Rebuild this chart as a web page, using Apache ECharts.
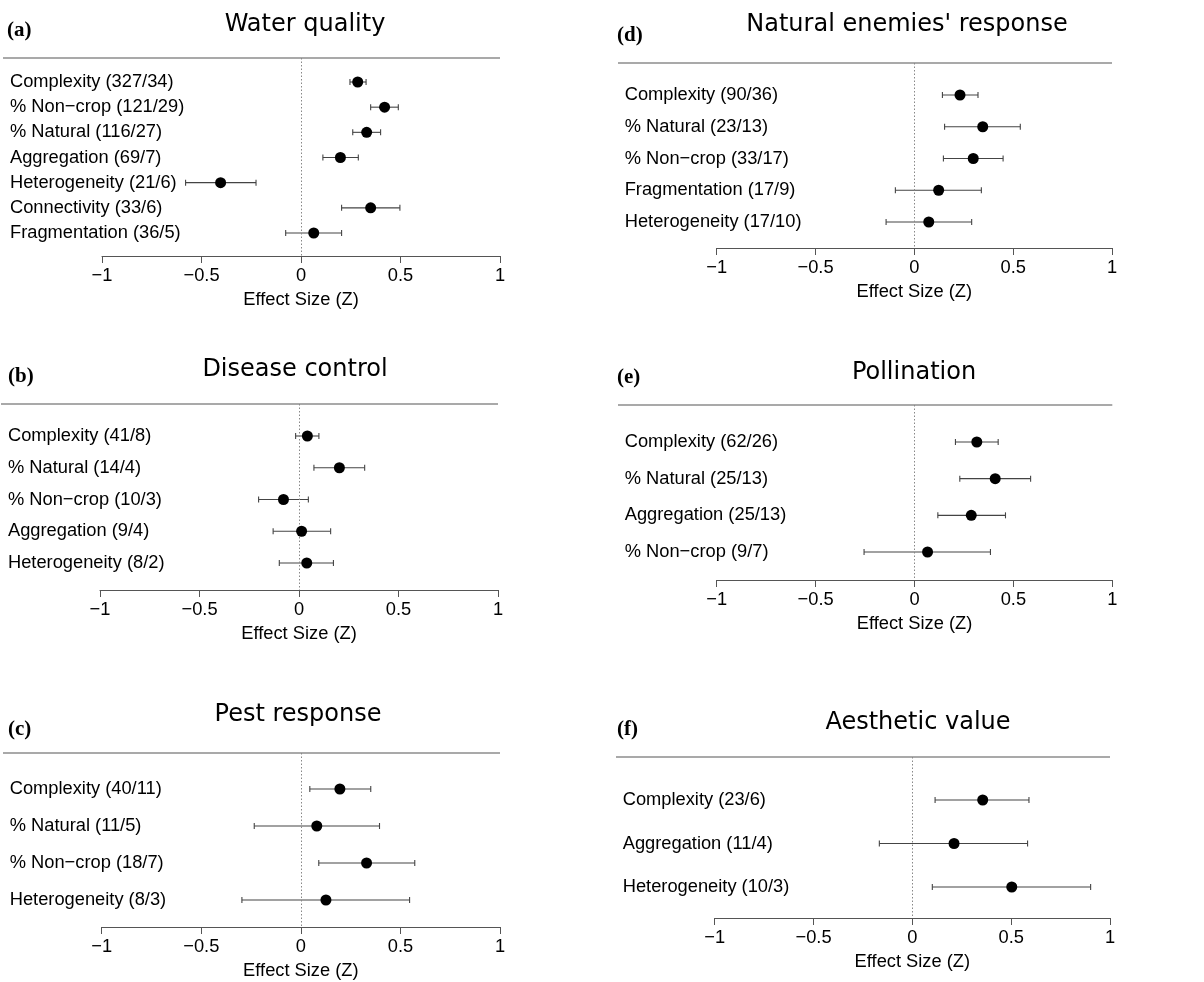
<!DOCTYPE html>
<html>
<head>
<meta charset="utf-8">
<script src="https://cdn.jsdelivr.net/npm/echarts@6/dist/echarts.min.js"></script>
<style>html,body{margin:0;padding:0;background:#fff}#c{width:1204px;height:982px}</style>
</head>
<body>
<div id="c"></div>
<script>
// ---------- DATA ----------
const xTicks = [-1, -0.5, 0, 0.5, 1];

const waterLabels = ['Complexity (327/34)', '% Non\u2212crop (121/29)', '% Natural (116/27)', 'Aggregation (69/7)', 'Heterogeneity (21/6)', 'Connectivity (33/6)', 'Fragmentation (36/5)'];
const waterMean = [0.285, 0.42, 0.33, 0.198, -0.404, 0.35, 0.064];
const waterLow  = [0.246, 0.35, 0.26, 0.11, -0.58, 0.204, -0.077];
const waterHigh = [0.327, 0.489, 0.40, 0.288, -0.226, 0.497, 0.204];

const diseaseLabels = ['Complexity (41/8)', '% Natural (14/4)', '% Non\u2212crop (10/3)', 'Aggregation (9/4)', 'Heterogeneity (8/2)'];
const diseaseMean = [0.042, 0.203, -0.078, 0.013, 0.039];
const diseaseLow  = [-0.017, 0.075, -0.203, -0.13, -0.099];
const diseaseHigh = [0.1, 0.33, 0.047, 0.159, 0.173];

const pestLabels = ['Complexity (40/11)', '% Natural (11/5)', '% Non\u2212crop (18/7)', 'Heterogeneity (8/3)'];
const pestMean = [0.196, 0.08, 0.33, 0.126];
const pestLow  = [0.045, -0.234, 0.09, -0.296];
const pestHigh = [0.351, 0.395, 0.572, 0.546];

const enemiesLabels = ['Complexity (90/36)', '% Natural (23/13)', '% Non\u2212crop (33/17)', 'Fragmentation (17/9)', 'Heterogeneity (17/10)'];
const enemiesMean = [0.231, 0.346, 0.298, 0.123, 0.073];
const enemiesLow  = [0.142, 0.153, 0.147, -0.096, -0.143];
const enemiesHigh = [0.322, 0.536, 0.449, 0.339, 0.29];

const pollLabels = ['Complexity (62/26)', '% Natural (25/13)', 'Aggregation (25/13)', '% Non\u2212crop (9/7)'];
const pollMean = [0.315, 0.408, 0.287, 0.066];
const pollLow  = [0.207, 0.229, 0.118, -0.255];
const pollHigh = [0.423, 0.587, 0.46, 0.384];

const aestLabels = ['Complexity (23/6)', 'Aggregation (11/4)', 'Heterogeneity (10/3)'];
const aestMean = [0.356, 0.211, 0.503];
const aestLow  = [0.115, -0.167, 0.101];
const aestHigh = [0.59, 0.583, 0.902];

const panelTitles = ['Water quality', 'Disease control', 'Pest response', "Natural enemies' response", 'Pollination', 'Aesthetic value'];
const panelLetters = ['(a)', '(b)', '(c)', '(d)', '(e)', '(f)'];
const xName = 'Effect Size (Z)';

// ---------- LAYOUT ----------
const layouts = [
  {gl: 102,   gr: 500,    ruleY: 58,  axisY: 256, r1: 82,  rn: 233, rx0: 3,   tx: 305, ty: 25,  lx: 7,   ly: 31},
  {gl: 100,   gr: 498,    ruleY: 404, axisY: 590, r1: 436, rn: 563, rx0: 1,   tx: 295, ty: 370, lx: 8,   ly: 377},
  {gl: 101.7, gr: 500,    ruleY: 753, axisY: 927, r1: 789, rn: 900, rx0: 3,   tx: 298, ty: 715, lx: 8,   ly: 730},
  {gl: 716.7, gr: 1112,   ruleY: 63,  axisY: 248, r1: 95,  rn: 222, rx0: 618, tx: 907, ty: 25,  lx: 617, ly: 36},
  {gl: 716.7, gr: 1112.3, ruleY: 405, axisY: 580, r1: 442, rn: 552, rx0: 618, tx: 914, ty: 373, lx: 617, ly: 378},
  {gl: 714.7, gr: 1110,   ruleY: 757, axisY: 918, r1: 800, rn: 887, rx0: 616, tx: 918, ty: 723, lx: 617, ly: 730}
];
const panels = [
  [waterLabels, waterMean, waterLow, waterHigh],
  [diseaseLabels, diseaseMean, diseaseLow, diseaseHigh],
  [pestLabels, pestMean, pestLow, pestHigh],
  [enemiesLabels, enemiesMean, enemiesLow, enemiesHigh],
  [pollLabels, pollMean, pollLow, pollHigh],
  [aestLabels, aestMean, aestLow, aestHigh]
];

const LABEL_FONT = 'Liberation Sans, Arial, sans-serif';
const FS = 18.3;
const LABEL_GAP = 92;

const grids = [], xAxes = [], yAxes = [], series = [], graphics = [];
const fmt = v => (v < 0 ? '\u2212' + Math.abs(v) : String(v));

panels.forEach((p, i) => {
  const L = layouts[i];
  const [labels, mean, low, high] = p;
  const n = labels.length;
  const s = n > 1 ? (L.rn - L.r1) / (n - 1) : 25;
  const ymin = 1 - (L.r1 - L.ruleY) / s;
  const ymax = n + (L.axisY - L.rn) / s;

  grids.push({left: L.gl, top: L.ruleY, width: L.gr - L.gl, height: L.axisY - L.ruleY, containLabel: false});
  xAxes.push({
    type: 'value', gridIndex: i, min: xTicks[0], max: xTicks[xTicks.length - 1], interval: 0.5,
    position: 'bottom',
    axisLine: {show: true, onZero: false, lineStyle: {color: '#555', width: 1}},
    axisTick: {show: true, inside: false, length: 7, lineStyle: {color: '#555', width: 1}},
    axisLabel: {show: true, formatter: fmt, fontFamily: LABEL_FONT, fontSize: FS, color: '#000', margin: 11, showMinLabel: true, showMaxLabel: true},
    splitLine: {show: false},
    name: xName, nameLocation: 'middle', nameGap: 35,
    nameTextStyle: {fontFamily: LABEL_FONT, fontSize: FS, color: '#000'}
  });
  yAxes.push({type: 'value', gridIndex: i, inverse: true, min: ymin, max: ymax, show: false, axisLine: {onZero: false}});

  const barData = labels.map((lab, k) => [k + 1, low[k], high[k], lab]);
  // error bars
  series.push({
    type: 'custom', xAxisIndex: i, yAxisIndex: i, silent: true,
    encode: {x: [1, 2], y: 0},
    data: barData,
    renderItem: (params, api) => {
      const y = api.value(0);
      const a = api.coord([api.value(1), y]);
      const b = api.coord([api.value(2), y]);
      const h = 3;
      const st = {stroke: '#444', lineWidth: 1.1};
      return {type: 'group', children: [
        {type: 'line', shape: {x1: a[0], y1: a[1], x2: b[0], y2: b[1]}, style: st},
        {type: 'line', shape: {x1: a[0], y1: a[1] - h, x2: a[0], y2: a[1] + h}, style: st},
        {type: 'line', shape: {x1: b[0], y1: b[1] - h, x2: b[0], y2: b[1] + h}, style: st}
      ]};
    }
  });
  // category labels
  series.push({
    type: 'custom', xAxisIndex: i, yAxisIndex: i, silent: true,
    encode: {x: 1, y: 0},
    data: labels.map((lab, k) => [k + 1, xTicks[0], lab]),
    renderItem: (params, api) => {
      const c = api.coord([xTicks[0], api.value(0)]);
      return {type: 'text', style: {
        text: labels[params.dataIndex], x: c[0] - LABEL_GAP, y: c[1],
        textAlign: 'left', textVerticalAlign: 'middle',
        font: FS + 'px ' + LABEL_FONT, fill: '#000'
      }};
    }
  });
  // points
  series.push({
    type: 'scatter', xAxisIndex: i, yAxisIndex: i, silent: true,
    symbol: 'circle', symbolSize: 11,
    itemStyle: {color: '#000', opacity: 1},
    data: mean.map((m, k) => [m, k + 1]),
    markLine: {
      silent: true, symbol: 'none', label: {show: false},
      lineStyle: {type: [1.5, 2], color: '#888', width: 1, opacity: 1},
      data: [{xAxis: 0}]
    },
    z: 5
  });
  // decorations
  graphics.push({type: 'line', shape: {x1: L.rx0, y1: L.ruleY, x2: L.gr, y2: L.ruleY}, style: {stroke: '#555', lineWidth: 1.2}, silent: true});
  graphics.push({type: 'text', style: {text: panelTitles[i], x: L.tx, y: L.ty, textAlign: 'center', textVerticalAlign: 'middle', font: '24px "DejaVu Sans", sans-serif', fill: '#000'}, silent: true});
  graphics.push({type: 'text', style: {text: panelLetters[i], x: L.lx, y: L.ly, textAlign: 'left', textVerticalAlign: 'middle', font: 'bold 21px "Liberation Serif", "Times New Roman", serif', fill: '#000'}, silent: true});
});

const chart = echarts.init(document.getElementById('c'), null, {renderer: 'canvas'});
chart.setOption({
  backgroundColor: '#fff',
  animation: false,
  grid: grids, xAxis: xAxes, yAxis: yAxes, series: series, graphic: graphics
});
</script>
</body>
</html>
